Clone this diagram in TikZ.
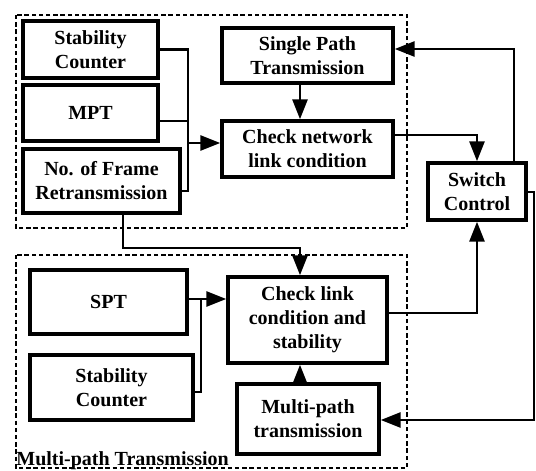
\documentclass[tikz,border=0pt]{standalone}
\usepackage{fontspec}
\setmainfont{Liberation Serif}
\usetikzlibrary{arrows.meta}

\begin{document}
\begin{tikzpicture}[x=0.5pt, y=-0.5pt, >={Triangle[length=10pt, width=7.5pt]},
    block/.style={draw, line width=1.7pt, font=\bfseries, align=center, inner sep=0pt},
    link/.style={line width=1.4pt},
    group/.style={draw, line width=1.4pt, dash pattern=on 2.2pt off 1.4pt}]
    \useasboundingbox (0,0) rectangle (536,471);

    % dashed groups
    \draw[group] (16,15) rectangle (407,228);
    \draw[group] (16,255) rectangle (407,468);
    \node[font=\bfseries, anchor=base west, inner sep=0pt] (mplabel) at (16,465) {Multi-path Transmission};

    % upper group
    \node[block, minimum width=67.5pt, minimum height=28.5pt] (stab1) at (90.5,49.5) {Stability\\Counter};
    \node[block, minimum width=67.5pt, minimum height=28pt] (mpt) at (90.5,113) {MPT};
    \node[block, minimum width=78.5pt, minimum height=32pt] (frame) at (101.5,181) {No. of Frame\\Retransmission};
    \node[block, minimum width=85.5pt, minimum height=27.5pt] (single) at (307.5,55.5) {Single Path\\Transmission};
    \node[block, minimum width=85.5pt, minimum height=28pt] (checknet) at (307.5,149) {Check network\\link condition};

    % switch
    \node[block, minimum width=49pt, minimum height=28.5pt] (switch) at (477,191.5) {Switch\\Control};

    % lower group
    \node[block, minimum width=78.5pt, minimum height=32pt] (spt) at (108.5,302) {SPT};
    \node[block, minimum width=81.5pt, minimum height=32.5pt] (stab2) at (111.5,387.5) {Stability\\Counter};
    \node[block, minimum width=79.5pt, minimum height=43pt] (checklink) at (307.5,320) {Check link\\condition and\\stability};
    \node[block, minimum width=71pt, minimum height=35pt] (multi) at (308,419) {Multi-path\\transmission};

    \coordinate (joinA) at (188,143);
    \coordinate (joinB) at (201,299);
    \coordinate (frturn) at (300,248);
    \coordinate (rturn) at (534,420);

    % upper connectors
    \draw[link] (stab1.east) -| (joinA);
    \draw[link] (mpt.east |- 0,121) -| (joinA);
    \draw[link] (frame.east |- 0,191) -| (joinA);
    \draw[link,->] (joinA) -- (checknet.west |- joinA);
    \draw[link,->] (single.south -| 300,0) -- (checknet.north -| 300,0);
    \draw[link,->] (checknet.east |- 0,135) -| (switch.north);

    % switch outputs
    \draw[link,->] (switch.north -| 514,0) |- (single.east |- 0,49);
    \draw[link,->] (switch.east |- 0,192) -| (rturn) -- (multi.east |- rturn);

    % lower connectors
    \draw[link,->] (frame.south -| 123,0) |- (frturn) -- (checklink.north -| frturn);
    \draw[link,->] (checklink.east |- 0,313) -| (switch.south);
    \draw[link,->] (multi.north -| 300,0) -- (checklink.south -| 300,0);
    \draw[link,->] (spt.east |- joinB) -- (checklink.west |- joinB);
    \draw[link] (stab2.east |- 0,392) -| (joinB);
\end{tikzpicture}
\end{document}
